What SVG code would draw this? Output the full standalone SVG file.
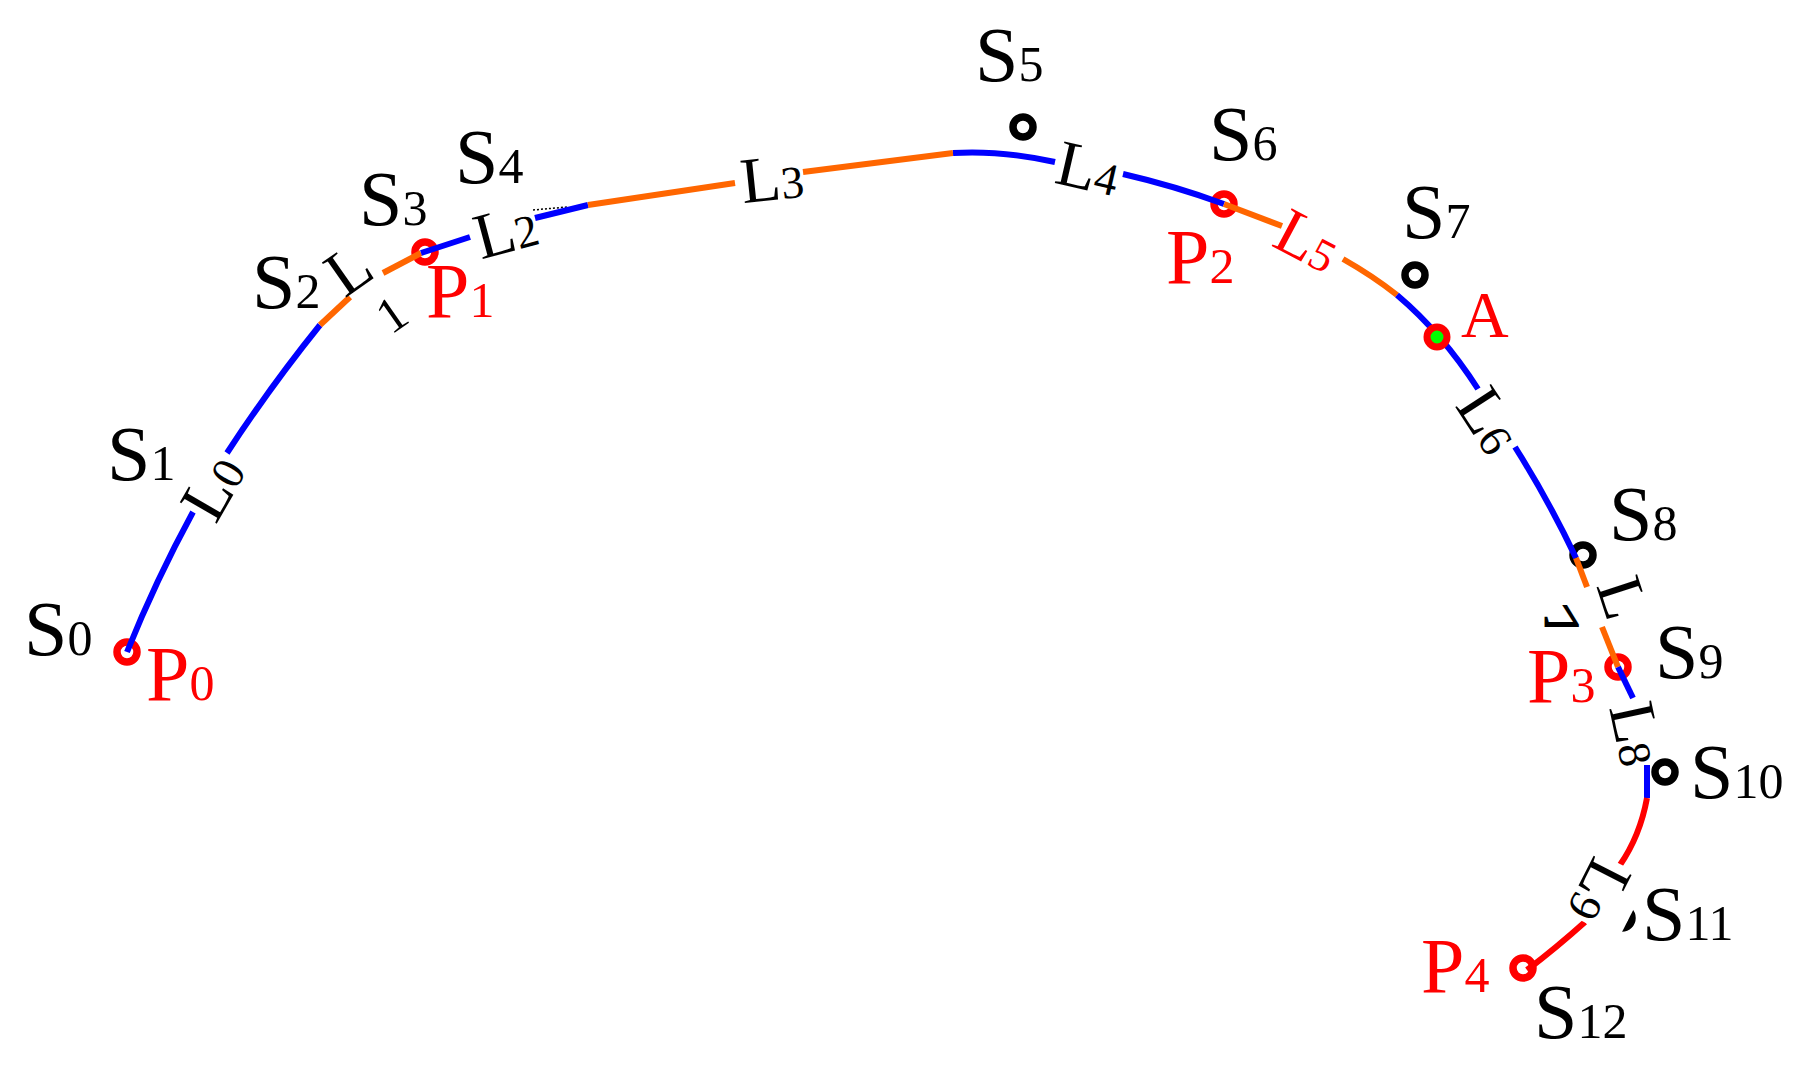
<svg xmlns="http://www.w3.org/2000/svg" width="1800" height="1066" viewBox="0 0 1800 1066">
<style>
.t{font-family:"Liberation Serif","Times New Roman",serif}
.s{font-size:78px;fill:#000}
.p{font-size:78px;fill:#ff0000}
.sub{font-size:50px}
.l{font-size:65px;fill:#000}
.lsub{font-size:46px}
.seg{fill:none;stroke-width:6;stroke-linecap:butt}
.blue{stroke:#0000ff}
.orange{stroke:#ff6600}
.red{stroke:#ff0000}
.ring{fill:none;stroke-width:7.5}
.rr{stroke:#ff0000}
.rb{stroke:#000}
</style>
<defs>
<clipPath id="c7"><rect x="1530" y="605" width="60" height="30"/></clipPath>
</defs>
<rect x="0" y="0" width="1800" height="1066" fill="#fff"/>

<g id="nodes">
<g id="S0"><text class="t s" x="24" y="655">S<tspan class="sub">0</tspan></text></g>
<g id="S1"><text class="t s" x="107" y="480">S<tspan class="sub">1</tspan></text></g>
<g id="S2"><text class="t s" x="252" y="308">S<tspan class="sub">2</tspan></text></g>
<g id="S3"><text class="t s" x="359" y="225">S<tspan class="sub">3</tspan></text></g>
<g id="S4"><text class="t s" x="455" y="183">S<tspan class="sub">4</tspan></text></g>
<g id="S5"><circle class="ring rb" cx="1023" cy="127" r="10"/><text class="t s" x="975" y="81">S<tspan class="sub">5</tspan></text></g>
<g id="S6"><text class="t s" x="1209" y="160">S<tspan class="sub">6</tspan></text></g>
<g id="S7"><circle class="ring rb" cx="1415" cy="275" r="10"/><text class="t s" x="1402" y="238">S<tspan class="sub">7</tspan></text></g>
<g id="S8"><circle class="ring rb" cx="1583" cy="555" r="10"/><text class="t s" x="1609" y="540">S<tspan class="sub">8</tspan></text></g>
<g id="S9"><text class="t s" x="1655" y="678">S<tspan class="sub">9</tspan></text></g>
<g id="S10"><circle class="ring rb" cx="1665" cy="772" r="10"/><text class="t s" x="1690" y="798">S<tspan class="sub">10</tspan></text></g>
<g id="S11"><circle class="ring rb" cx="1622" cy="918" r="10"/><text class="t s" x="1642" y="940">S<tspan class="sub">11</tspan></text></g>
<g id="S12"><text class="t s" x="1534" y="1038">S<tspan class="sub">12</tspan></text></g>
<g id="P0"><circle class="ring rr" cx="127" cy="652" r="10"/><text class="t p" x="146" y="700">P<tspan class="sub">0</tspan></text></g>
<g id="P1"><circle class="ring rr" cx="425" cy="252" r="10"/><text class="t p" x="426" y="317">P<tspan class="sub">1</tspan></text></g>
<g id="P2"><circle class="ring rr" cx="1224" cy="204" r="10"/><text class="t p" x="1166" y="283">P<tspan class="sub">2</tspan></text></g>
<g id="P3"><circle class="ring rr" cx="1618" cy="667" r="10"/><text class="t p" x="1527" y="702">P<tspan class="sub">3</tspan></text></g>
<g id="P4"><circle class="ring rr" cx="1523" cy="968" r="10"/><text class="t p" x="1421" y="992">P<tspan class="sub">4</tspan></text></g>
</g>

<g id="connectors">
<path class="seg blue" d="M127,652 Q156,580 193,512"/>
<path class="seg blue" d="M227,453 Q270,387 320,325"/>
<path class="seg orange" d="M320,325 L350,297"/>
<path class="seg orange" d="M383,273 L421,253"/>
<path class="seg blue" d="M421,253 L470,237"/>
<path d="M533,210 L567,207" fill="none" stroke="#000" stroke-width="1.5" stroke-dasharray="2 2"/>
<path class="seg blue" d="M535,218 L588,205"/>
<path class="seg orange" d="M588,205 L735,183"/>
<path class="seg orange" d="M803,172 L953,153"/>
<path class="seg blue" d="M953,153 Q1000,150 1055,162"/>
<path class="seg blue" d="M1123,174 Q1175,186 1224,204"/>
<path class="seg orange" d="M1224,204 L1282,226"/>
<path class="seg orange" d="M1343,259 Q1373,276 1397,295"/>
<path class="seg blue" d="M1397,295 Q1442,333 1478,389"/>
<path class="seg blue" d="M1515,447 Q1549,501 1576,558"/>
<path class="seg orange" d="M1576,558 L1587,587"/>
<path class="seg orange" d="M1602,627 L1618,667"/>
<path class="seg blue" d="M1618,667 L1633,698"/>
<path class="seg blue" d="M1647,765 L1647,798"/>
<path class="seg red" d="M1647,798 Q1640,836 1620,865"/>
<path class="seg red" d="M1585,922 Q1556,948 1527,970"/>

<g id="L0" transform="translate(214,488) rotate(-60)"><text class="t l" x="0" y="20" text-anchor="middle">L<tspan class="lsub">0</tspan></text></g>
<g id="L1">
<g transform="translate(349,270) rotate(-35)"><text class="t l" x="0" y="21" text-anchor="middle">L</text></g>
<g transform="translate(392,315) rotate(-35)"><text class="t l lsub" x="0" y="16" text-anchor="middle" style="font-size:50px">1</text></g>
</g>
<g id="L2" transform="translate(506,232) rotate(-15)"><text class="t l" x="0" y="20" text-anchor="middle">L<tspan class="lsub">2</tspan></text></g>
<g id="L3" transform="translate(772,180) rotate(-6)"><text class="t l" x="0" y="20" text-anchor="middle">L<tspan class="lsub">3</tspan></text></g>
<g id="L4" transform="translate(1088,170) rotate(13)"><text class="t l" x="0" y="20" text-anchor="middle">L<tspan class="lsub">4</tspan></text></g>
<g id="L5" transform="translate(1307,242) rotate(28)"><text class="t l" x="0" y="20" text-anchor="middle" style="fill:#ff0000">L<tspan class="lsub">5</tspan></text></g>
<g id="L6" transform="translate(1488,421) rotate(57)"><text class="t l" x="0" y="20" text-anchor="middle">L<tspan class="lsub">6</tspan></text></g>
<g id="L7">
<g transform="translate(1622,598) rotate(72)"><text class="t l" x="0" y="21" text-anchor="middle">L</text></g>
<g clip-path="url(#c7)"><g transform="translate(1560,584) scale(1.3,-1)"><text class="t l" x="0" y="0" text-anchor="middle">7</text></g></g>
</g>
<g id="L8" transform="translate(1635,734) rotate(78)"><text class="t l" x="0" y="20" text-anchor="middle">L<tspan class="lsub">8</tspan></text></g>
<g id="L9" transform="translate(1598,891) rotate(117)"><rect x="-34" y="-40" width="68" height="72" fill="#fff"/><text class="t l" x="0" y="20" text-anchor="middle">L<tspan class="lsub">9</tspan></text></g>
</g>

<g id="A">
<circle cx="1437" cy="337" r="10" fill="#00ff00" stroke="#ff0000" stroke-width="7"/>
<text class="t p" x="1461" y="337" style="font-size:66px">A</text>
</g>
</svg>
